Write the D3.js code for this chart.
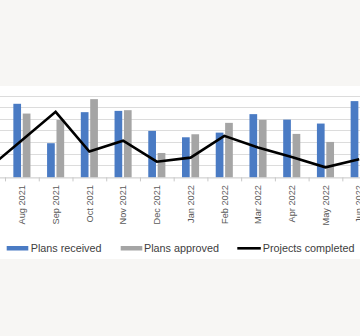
<!DOCTYPE html>
<html><head><meta charset="utf-8">
<script src="https://cdn.jsdelivr.net/npm/d3@7"></script>
<style>html,body{margin:0;padding:0;background:#f7f6f4;}svg{display:block;}</style>
</head><body>
<svg id="c" width="360" height="336"></svg>
<script>
const months = ["Jul 2021","Aug 2021","Sep 2021","Oct 2021","Nov 2021","Dec 2021","Jan 2022","Feb 2022","Mar 2022","Apr 2022","May 2022","Jun 2022"];
const plansReceived = [null,63.3,29.4,56.1,57.2,40.0,34.5,38.5,54.4,49.7,46.3,65.6];
const plansApproved = [null,54.9,49.5,67.3,57.8,21.0,37.1,46.9,49.5,37.4,30.5,null];
const projectsCompleted = [7.6,32.0,56.4,22.2,31.6,13.5,17.0,35.7,25.8,17.6,8.7,15.6];
const yTicks = [0,10,20,30,40,50,60,70];

const svg = d3.select("#c");
const W = 360;
svg.append("rect").attr("x",0).attr("y",86).attr("width",W).attr("height",173).attr("fill","#ffffff");

const step = 33.73;
const x0 = 21.9 - 1.5*step;
const x = d3.scaleBand().domain(months).range([x0, x0 + months.length*step]).paddingInner(0).paddingOuter(0);
const y = d3.scaleLinear().domain([0,70]).range([177.4, 96]);

// gridlines
svg.append("g").selectAll("line").data(yTicks.slice(1)).join("line")
  .attr("x1",0).attr("x2",W).attr("y1",d=>y(d)).attr("y2",d=>y(d))
  .attr("stroke","#dcdcdc").attr("stroke-width",1).attr("shape-rendering","crispEdges");

const bw = 7.7, gap = 1.7;
const mid = m => x(m) + x.bandwidth()/2;
svg.append("g").selectAll("rect").data(months.map((m,i)=>({m,v:plansReceived[i]})).filter(d=>d.v!=null)).join("rect")
  .attr("x",d=>mid(d.m)-gap/2-bw).attr("width",bw)
  .attr("y",d=>y(d.v)).attr("height",d=>y(0)-y(d.v)).attr("fill","#4a7bc4");
svg.append("g").selectAll("rect").data(months.map((m,i)=>({m,v:plansApproved[i]})).filter(d=>d.v!=null)).join("rect")
  .attr("x",d=>mid(d.m)+gap/2).attr("width",bw)
  .attr("y",d=>y(d.v)).attr("height",d=>y(0)-y(d.v)).attr("fill","#a5a5a5");

// x axis (the Jul 2021 label lies outside the visible crop, so it is not drawn)
const axis = d3.axisBottom(x).tickSize(0).tickPadding(0)
  .tickFormat(d => mid(d) < 0 ? "" : d);
const gx = svg.append("g").attr("transform",`translate(0,${y(0)})`).call(axis);
gx.select(".domain").attr("d",`M0,0.5H${W}`).attr("stroke","#c8c8c8").attr("stroke-width",1);
gx.selectAll(".tick text").attr("transform","rotate(-90)").attr("text-anchor","end")
  .attr("x",-7.7).attr("y",0).attr("dy","0.35em")
  .attr("font-family","Liberation Sans, Arial, sans-serif").attr("font-size","9.2px").attr("fill","#595959");
// boundary ticks
svg.append("g").selectAll("line").data(months).join("line")
  .attr("x1",d=>x(d)+0.5).attr("x2",d=>x(d)+0.5).attr("y1",y(0)).attr("y2",y(0)+4)
  .attr("stroke","#c8c8c8").attr("stroke-width",1);

// line
const line = d3.line().x((d,i)=>mid(months[i])).y(d=>y(d));
svg.append("path").datum(projectsCompleted).attr("d",line)
  .attr("fill","none").attr("stroke","#000").attr("stroke-width",2.6).attr("stroke-linejoin","miter");

// legend
const lg = svg.append("g").attr("font-family","Liberation Sans, Arial, sans-serif").attr("font-size","10.8px").attr("fill","#404040");
const items = [
  {label:"Plans received", color:"#4a7bc4", type:"bar", sx:6.7, tx:30.7},
  {label:"Plans approved", color:"#a5a5a5", type:"bar", sx:120.7, tx:144},
  {label:"Projects completed", color:"#000", type:"line", sx:237.3, tx:262.7}
];
items.forEach(it=>{
  if(it.type==="bar"){
    lg.append("rect").attr("x",it.sx).attr("y",246).attr("width",21.6).attr("height",4.5).attr("fill",it.color);
  } else {
    lg.append("line").attr("x1",it.sx).attr("x2",it.sx+23.5).attr("y1",248.3).attr("y2",248.3).attr("stroke",it.color).attr("stroke-width",2.6);
  }
  lg.append("text").attr("x",it.tx).attr("y",252).text(it.label);
});
</script>
</body></html>
